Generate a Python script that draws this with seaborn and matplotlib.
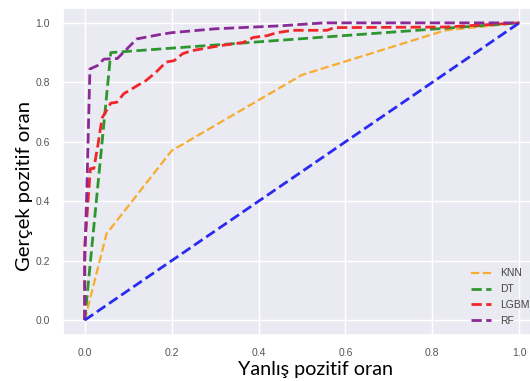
import numpy as np
import pandas as pd
import matplotlib
matplotlib.use("Agg")
import matplotlib.pyplot as plt
import seaborn as sns

# ROC curve data
knn_fpr = [0.0, 0.05, 0.20, 0.50, 0.83, 1.0]
knn_tpr = [0.0, 0.29, 0.57, 0.825, 0.975, 1.0]

dt_fpr = [0.0, 0.06, 1.0]
dt_tpr = [0.0, 0.90, 1.0]

lgbm_fpr = [0.0, 0.0, 0.013, 0.021, 0.031, 0.040, 0.048, 0.060, 0.074, 0.090, 0.102,
            0.121, 0.141, 0.164, 0.187, 0.206, 0.225, 0.245, 0.272, 0.310, 0.365,
            0.388, 0.420, 0.442, 0.480, 0.558, 0.574, 0.830, 1.0]
lgbm_tpr = [0.0, 0.245, 0.51, 0.51, 0.595, 0.68, 0.70, 0.73, 0.733, 0.762, 0.772,
            0.789, 0.806, 0.834, 0.868, 0.873, 0.896, 0.906, 0.913, 0.923, 0.934,
            0.951, 0.957, 0.967, 0.975, 0.975, 0.984, 0.986, 1.0]

rf_fpr = [0.0, 0.0, 0.005, 0.012, 0.029, 0.044, 0.075, 0.12, 0.17, 0.20, 0.30, 0.45, 0.55, 1.0]
rf_tpr = [0.0, 0.20, 0.45, 0.845, 0.856, 0.878, 0.88, 0.946, 0.96, 0.967, 0.98, 0.99, 1.0, 1.0]

diag_fpr = [0.0, 1.0]
diag_tpr = [0.0, 1.0]

labels = ["KNN", "DT", "LGBM", "RF"]
colors = ["#f7ac2e", "#2e962e", "#f0262a", "#8a2a96"]
widths = [1.6, 2.0, 2.0, 2.0]
x_ticks = [0.0, 0.2, 0.4, 0.6, 0.8, 1.0]
y_ticks = [0.0, 0.2, 0.4, 0.6, 0.8, 1.0]
xlabel = "Yanlış pozitif oran"
ylabel = "Gerçek pozitif oran"

sns.set_theme(style="darkgrid")
plt.rcParams["font.family"] = ["Liberation Sans", "DejaVu Sans"]

fig = plt.figure(figsize=(5.30, 3.81), dpi=100)
ax = fig.add_axes([63 / 530, 46 / 381, 478 / 530, 327 / 381])

series = [(knn_fpr, knn_tpr), (dt_fpr, dt_tpr), (lgbm_fpr, lgbm_tpr), (rf_fpr, rf_tpr)]
for (fx, ty), lab, col, lw in zip(series, labels, colors, widths):
    df = pd.DataFrame({"fpr": fx, "tpr": ty})
    sns.lineplot(data=df, x="fpr", y="tpr", ax=ax, color=col, linestyle="--",
                 linewidth=lw, label=lab, sort=False, estimator=None)

dfd = pd.DataFrame({"fpr": diag_fpr, "tpr": diag_tpr})
sns.lineplot(data=dfd, x="fpr", y="tpr", ax=ax, color="#2a2af0", linestyle="--",
             linewidth=2, sort=False, estimator=None, legend=False)

ax.set_xlim(-0.05, 1.05)
ax.set_ylim(-0.05, 1.05)
ax.set_xticks(x_ticks)
ax.set_yticks(y_ticks)
ax.set_xticklabels([f"{t:.1f}" for t in x_ticks])
ax.set_yticklabels([f"{t:.1f}" for t in y_ticks])
ax.tick_params(labelsize=7.5, colors="#555555")
ax.set_xlabel(xlabel, fontsize=14.2, color="black",
              family=["Lato", "DejaVu Sans"])
ax.set_ylabel(ylabel, fontsize=14.6, color="black",
              family=["Lato", "DejaVu Sans"])
ax.xaxis.set_label_coords((316 - 63) / 478, (381 - 361 - 46) / 327)
ax.yaxis.set_label_coords((33 - 63) / 478, (381 - 186 - 46) / 327)

ax.legend(loc="lower right", bbox_to_anchor=(0.995, 0.0), frameon=False,
          fontsize=7.5, handlelength=2.0, handletextpad=0.8, labelspacing=0.55,
          labelcolor="#444444")

fig.savefig("out.png", dpi=100)
